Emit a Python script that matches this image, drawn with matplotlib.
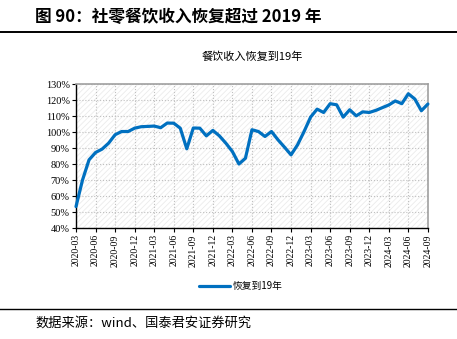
import matplotlib
matplotlib.use("Agg")
import matplotlib.pyplot as plt
import matplotlib.patches as mpatches
import numpy as np
import pandas as pd

plt.rcParams['font.family'] = ['Noto Sans CJK SC', 'DejaVu Sans']
plt.rcParams['hatch.color'] = '#ebebeb'
plt.rcParams['hatch.linewidth'] = 0.6

# 月度数据 2020-03 .. 2024-09
months = pd.date_range("2020-03-01", "2024-09-01", freq="MS")
recovery = [53.4, 70.0, 82.6, 87.2, 89.3, 93.0, 98.3, 100.3, 100.3, 102.4,
            103.3, 103.5, 103.7, 102.7, 105.6, 105.5, 102.4, 89.5, 102.5, 102.4,
            97.6, 101.0, 97.6, 93.0, 87.8, 80.0, 83.6, 101.4, 100.3, 97.2,
            100.3, 95.1, 90.5, 85.7, 92.0, 100.3, 109.3, 114.3, 112.2, 117.7,
            117.0, 109.3, 113.9, 110.1, 112.6, 112.2, 113.5, 115.2, 116.9, 119.4,
            117.7, 123.9, 120.6, 113.3, 117.5]
tick_labels = [m.strftime("%Y-%m") for m in months[::3]]
series_name = "恢复到19年"

fig = plt.figure(figsize=(4.57, 3.39), dpi=100)
ax = fig.add_axes([0.1663, 0.3274, 0.770, 0.4248])

x = np.arange(len(months))
ax.set_xlim(0, len(months) - 1)
ax.set_ylim(40, 130)

# 背景斜线
bg = mpatches.Rectangle((0, 0), 1, 1, transform=ax.transAxes, facecolor='white',
                        edgecolor='#ebebeb', hatch='//////', linewidth=0, zorder=0)
ax.add_patch(bg)

ax.plot(x, recovery, color='#0070c0', linewidth=2.3, solid_joinstyle='round',
        solid_capstyle='round', label=series_name, zorder=3, clip_on=False)

ax.set_xticks(x[::3])
ax.set_xticklabels(tick_labels, rotation=90, family=['Liberation Serif'], fontsize=7)
yt = np.arange(40, 131, 10)
ax.set_yticks(yt)
ax.set_yticklabels([f"{v}%" for v in yt], family=['Liberation Serif'], fontsize=7.5)
ax.tick_params(axis='both', length=3, width=0.8, pad=1.5, color='black')

ax.grid(True, linestyle=':', color='#c0c0c0', linewidth=0.8, zorder=1)
ax.set_axisbelow(True)
for s in ['left', 'bottom']:
    ax.spines[s].set_color('black')
    ax.spines[s].set_linewidth(1.0)
for s in ['top', 'right']:
    ax.spines[s].set_color('#a0a0a0')
    ax.spines[s].set_linewidth(1.2)

ax.set_title("餐饮收入恢复到19年", fontsize=8, pad=17)

leg = fig.legend(loc='center', bbox_to_anchor=(0.527, 0.155), frameon=False,
                 fontsize=7, handlelength=3.2, handletextpad=0.3)

fig.text(0.077, 0.95, "图 90：社零餐饮收入恢复超过 2019 年", fontsize=12,
         fontweight='bold', va='center', ha='left')
fig.add_artist(plt.Line2D([0, 1], [0.907, 0.907], color='black', linewidth=1.4,
                          transform=fig.transFigure))
fig.add_artist(plt.Line2D([0, 1], [0.089, 0.089], color='black', linewidth=1.0,
                          transform=fig.transFigure))
fig.text(0.077, 0.047, "数据来源：wind、国泰君安证券研究", fontsize=9.5,
         va='center', ha='left')

fig.savefig("out.png", dpi=100)
